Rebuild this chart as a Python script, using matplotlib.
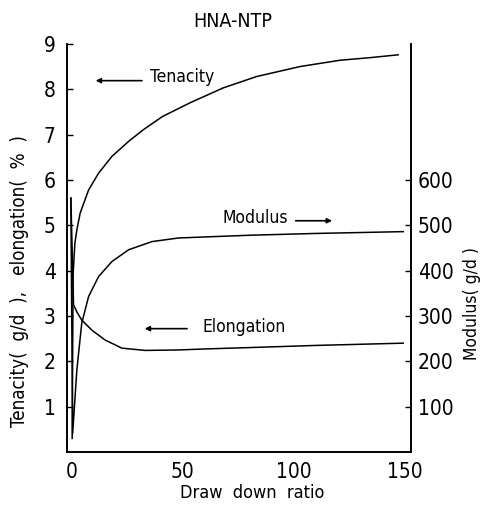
import matplotlib
matplotlib.use('Agg')
from matplotlib import pyplot as plt

plt.rcParams['font.family'] = ['DejaVu Sans']
plt.rcParams['font.stretch'] = 'condensed'

# values
tenacity_x = [0.3, 0.7, 1.5, 2.4, 3.9, 7.7, 12.2, 18.2, 25.7, 32.4, 41.0, 53.3, 68.3, 83.3, 102.8, 120.9, 135.0, 147.1]
tenacity_y = [0.3, 3.9, 4.6, 4.9, 5.27, 5.78, 6.15, 6.52, 6.85, 7.11, 7.40, 7.70, 8.03, 8.28, 8.50, 8.64, 8.70, 8.76]

elong_x = [-0.3, 0.9, 2.5, 4.6, 9.1, 15.1, 22.7, 33.2, 48.2, 58.7, 84.8, 110.0, 149.4]
elong_y = [5.6, 3.25, 3.08, 2.91, 2.69, 2.47, 2.29, 2.24, 2.25, 2.27, 2.31, 2.35, 2.40]

modulus_x = [-0.3, 0.5, 2.4, 4.6, 7.7, 12.2, 18.2, 25.7, 36.2, 48.2, 58.7, 80.0, 110.0, 149.4]
modulus_y = [560, 40, 181, 284, 343, 387, 420, 446, 464, 472, 474, 478, 482, 486]

left_ticks = [1, 2, 3, 4, 5, 6, 7, 8, 9]
right_ticks = [100, 200, 300, 400, 500, 600]
x_ticks = [0, 50, 100, 150]

fig = plt.figure(figsize=(4.81, 5.05), dpi=100)
ax = fig.add_axes([0.139, 0.105, 0.715, 0.808])
ax2 = ax.twinx()

ax.plot(tenacity_x, tenacity_y, color='black', lw=1.1)
ax.plot(elong_x, elong_y, color='black', lw=1.1)
ax2.plot(modulus_x, modulus_y, color='black', lw=1.1)

ax.set_xlim(-2.1, 152.8)
ax.set_ylim(0, 9)
ax2.set_ylim(0, 900)

ax.set_xticks(x_ticks)
ax.set_yticks(left_ticks)
ax2.set_yticks(right_ticks)
ax.tick_params(axis='y', direction='in', length=4, width=1, labelsize=15, pad=8)
ax.tick_params(axis='x', length=0, labelsize=15, pad=7)
ax2.tick_params(axis='y', direction='in', length=4, width=1, labelsize=15, pad=5)

for a in (ax, ax2):
    a.spines['top'].set_visible(False)
    for s in a.spines.values():
        s.set_linewidth(1.2)

ax.text(0.483, 1.056, 'HNA-NTP', fontsize=14, ha='center', va='center',
        transform=ax.transAxes)
ax.set_xlabel('Draw  down  ratio', fontsize=13)
ax.xaxis.set_label_coords(0.54, -0.078)
ax.set_ylabel('Tenacity(  g/d  ),   elongation(  %  )', fontsize=13.5)
ax.yaxis.set_label_coords(-0.11, 0.42)
ax2.set_ylabel('Modulus( g/d )', fontsize=12.5)
ax2.yaxis.set_label_coords(1.151, 0.365)

arrow = dict(arrowstyle='-|>', lw=1.2, color='black', mutation_scale=7)
ax.annotate('', xy=(9.6, 8.19), xytext=(33.0, 8.19), arrowprops=arrow)
ax.text(35.3, 8.26, 'Tenacity', fontsize=12.5, va='center', ha='left')
ax.text(67.8, 5.17, 'Modulus', fontsize=12.5, va='center', ha='left')
ax.annotate('', xy=(118.6, 5.1), xytext=(99.7, 5.1), arrowprops=arrow)
ax.text(58.8, 2.76, 'Elongation', fontsize=12.5, va='center', ha='left')
ax.annotate('', xy=(31.7, 2.72), xytext=(53.3, 2.72), arrowprops=arrow)

fig.savefig('out.png', dpi=100)
